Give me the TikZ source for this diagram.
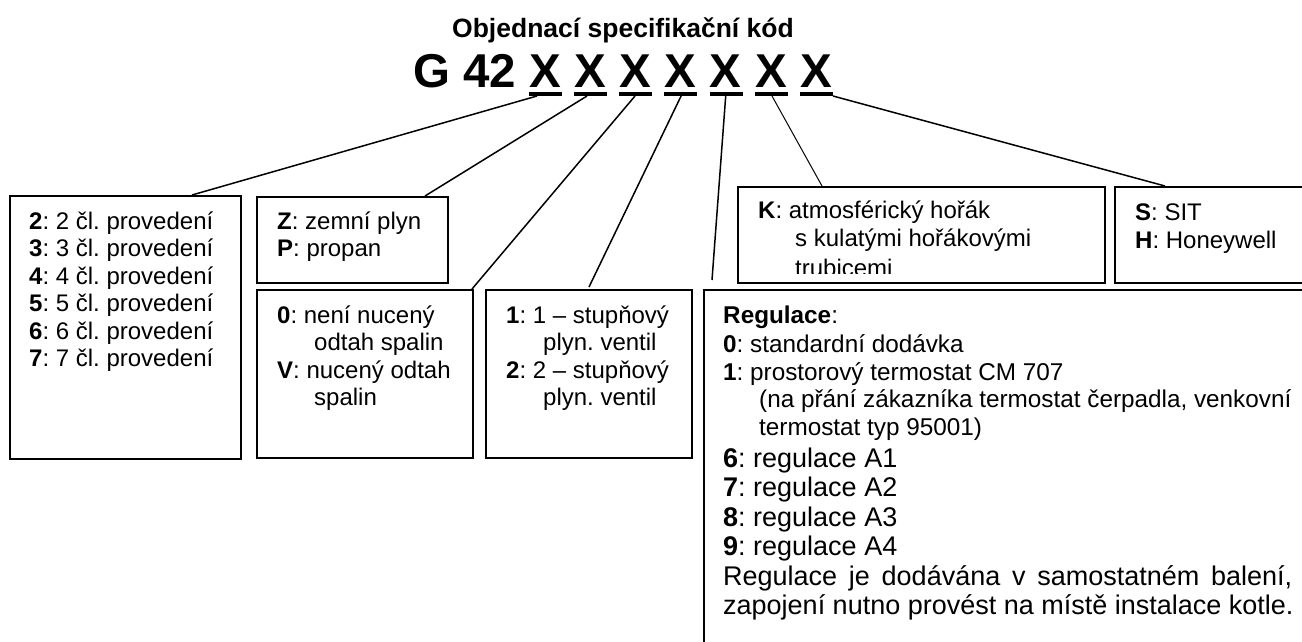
\documentclass[tikz,border=0pt]{standalone}
\usepackage{fontspec}
\setmainfont{Liberation Sans}
\newcommand\fsTitle{\fontsize{26.5}{30}\selectfont\bfseries\frenchspacing}
\newcommand\fsCode{\fontsize{47.5}{56}\selectfont\bfseries\frenchspacing}
\newcommand\fsBox{\fontsize{24}{28}\selectfont\frenchspacing}
\newcommand\fsSmall{\fontsize{24.3}{28}\selectfont\frenchspacing}
\newcommand\fsBig{\fontsize{27}{31}\selectfont\frenchspacing}
\tikzset{
  box/.style={draw, line width=1.9pt, inner sep=0pt, anchor=north west},
  txt/.style={anchor=base west, inner sep=0pt, font=\fsBox},
  conn/.style={line width=1.5pt},
  xch/.style={anchor=base west, inner sep=0pt, font=\fsCode},
}
\begin{document}
\frenchspacing
\begin{tikzpicture}[x=1pt,y=-1pt]
\useasboundingbox (0,0) rectangle (1302,641);
\clip (0,0) rectangle (1302,641);
\fill[white] (0,0) rectangle (1302,641);

% title and code
\node[anchor=base, inner sep=0pt, font=\fsTitle] (title) at (623,37) {Objednací specifikační kód};
\node[xch] (g42) at (413,87) {G 42};
\foreach \i/\xx in {1/529,2/574,3/619,4/664,5/709.5,6/755,7/800}{
  \node[xch] (x\i) at (\xx,87) {X};
  \fill (\xx,92) rectangle ++(33,4);
}

% boxes
\node[box, minimum width=231, minimum height=263] (b1) at (9,195) {};
\node[box, minimum width=191, minimum height=86] (b2) at (256,196) {};
\node[box, minimum width=216, minimum height=168] (b3) at (256,289) {};
\node[box, minimum width=206, minimum height=168] (b4) at (485,289) {};
\node[box, minimum width=367, minimum height=96] (bk) at (737,186) {};
\node[box, minimum width=220, minimum height=96] (bs) at (1114,186) {};
\node[box, minimum width=640, minimum height=380] (br) at (703,289) {};

% connector coordinates
\coordinate (s1) at (537,96);  \coordinate (e1) at (192,195);
\coordinate (s2) at (587,96);  \coordinate (e2) at (425,196);
\coordinate (s3) at (635,96);  \coordinate (e3) at (472,289);
\coordinate (s4) at (683,92);  \coordinate (e4) at (589,287);
\coordinate (s5) at (726,92);  \coordinate (e5) at (712,280);
\coordinate (s6) at (772,96);  \coordinate (e6) at (822,186);
\coordinate (s7) at (833,96);  \coordinate (e7) at (1165,186);
\draw[conn] (s1) -- (e1);
\draw[conn] (s2) -- (e2);
\draw[conn] (s3) -- (e3);
\draw[conn] (s4) -- (e4);
\draw[conn] (s5) -- (e5);
\draw[line width=1pt] (s6) -- (e6);
\draw[conn] (s7) -- (e7);

% box 1
\node[txt] (t11) at (29,229)   {\textbf{2}: 2 čl. provedení};
\node[txt] (t12) at (29,256.5) {\textbf{3}: 3 čl. provedení};
\node[txt] (t13) at (29,284)   {\textbf{4}: 4 čl. provedení};
\node[txt] (t14) at (29,311.5) {\textbf{5}: 5 čl. provedení};
\node[txt] (t15) at (29,339)   {\textbf{6}: 6 čl. provedení};
\node[txt] (t16) at (29,366.5) {\textbf{7}: 7 čl. provedení};

% box 2
\node[txt] (t21) at (277,229)   {\textbf{Z}: zemní plyn};
\node[txt] (t22) at (277,256.5) {\textbf{P}: propan};

% box 3
\node[txt] (t31) at (277,323)   {\textbf{0}: není nucený};
\node[txt] (t32) at (314,350.5) {odtah spalin};
\node[txt] (t33) at (277,378)   {\textbf{V}: nucený odtah};
\node[txt] (t34) at (314,405.5) {spalin};

% box 4
\node[txt] (t41) at (506,323)   {\textbf{1}: 1 – stupňový};
\node[txt] (t42) at (543,350.5) {plyn. ventil};
\node[txt] (t43) at (506,378)   {\textbf{2}: 2 – stupňový};
\node[txt] (t44) at (543,405.5) {plyn. ventil};

% box K
\node[txt] (tk1) at (758,218)   {\textbf{K}: atmosférický hořák};
\node[txt] (tk2) at (795,246.5) {s kulatými hořákovými};
\begin{scope}
  \clip (740,190) rectangle (1100,273);
  \node[txt] (tk3) at (795,276.5) {trubicemi};
\end{scope}

% box S
\node[txt] (ts1) at (1135,220) {\textbf{S}: SIT};
\node[txt] (ts2) at (1135,248.5) {\textbf{H}: Honeywell};

% box Regulace
\node[txt, font=\fsSmall] (tr0) at (723,323) {\textbf{Regulace}:};
\node[txt, font=\fsSmall] (tr1) at (723,352) {\textbf{0}: standardní dodávka};
\node[txt, font=\fsSmall] (tr2) at (723,380.5) {\textbf{1}: prostorový termostat CM 707};
\node[txt, font=\fsSmall] (tr3) at (759,407.5) {(na přání zákazníka termostat čerpadla, venkovní};
\node[txt, font=\fsSmall] (tr4) at (759,435) {termostat typ 95001)};
\node[txt, font=\fsBig] (tr5) at (723,467) {\textbf{6}: regulace A1};
\node[txt, font=\fsBig] (tr6) at (723,496.5) {\textbf{7}: regulace A2};
\node[txt, font=\fsBig] (tr7) at (723,526) {\textbf{8}: regulace A3};
\node[txt, font=\fsBig] (tr8) at (723,555.5) {\textbf{9}: regulace A4};
\node[txt, font=\fsBig] (tr9) at (723,585) {\makebox[569pt][s]{Regulace je dodávána v samostatném balení,}};
\node[txt, font=\fsBig] (tr10) at (723,614.5) {zapojení nutno provést na místě instalace kotle.};
\end{tikzpicture}
\end{document}
